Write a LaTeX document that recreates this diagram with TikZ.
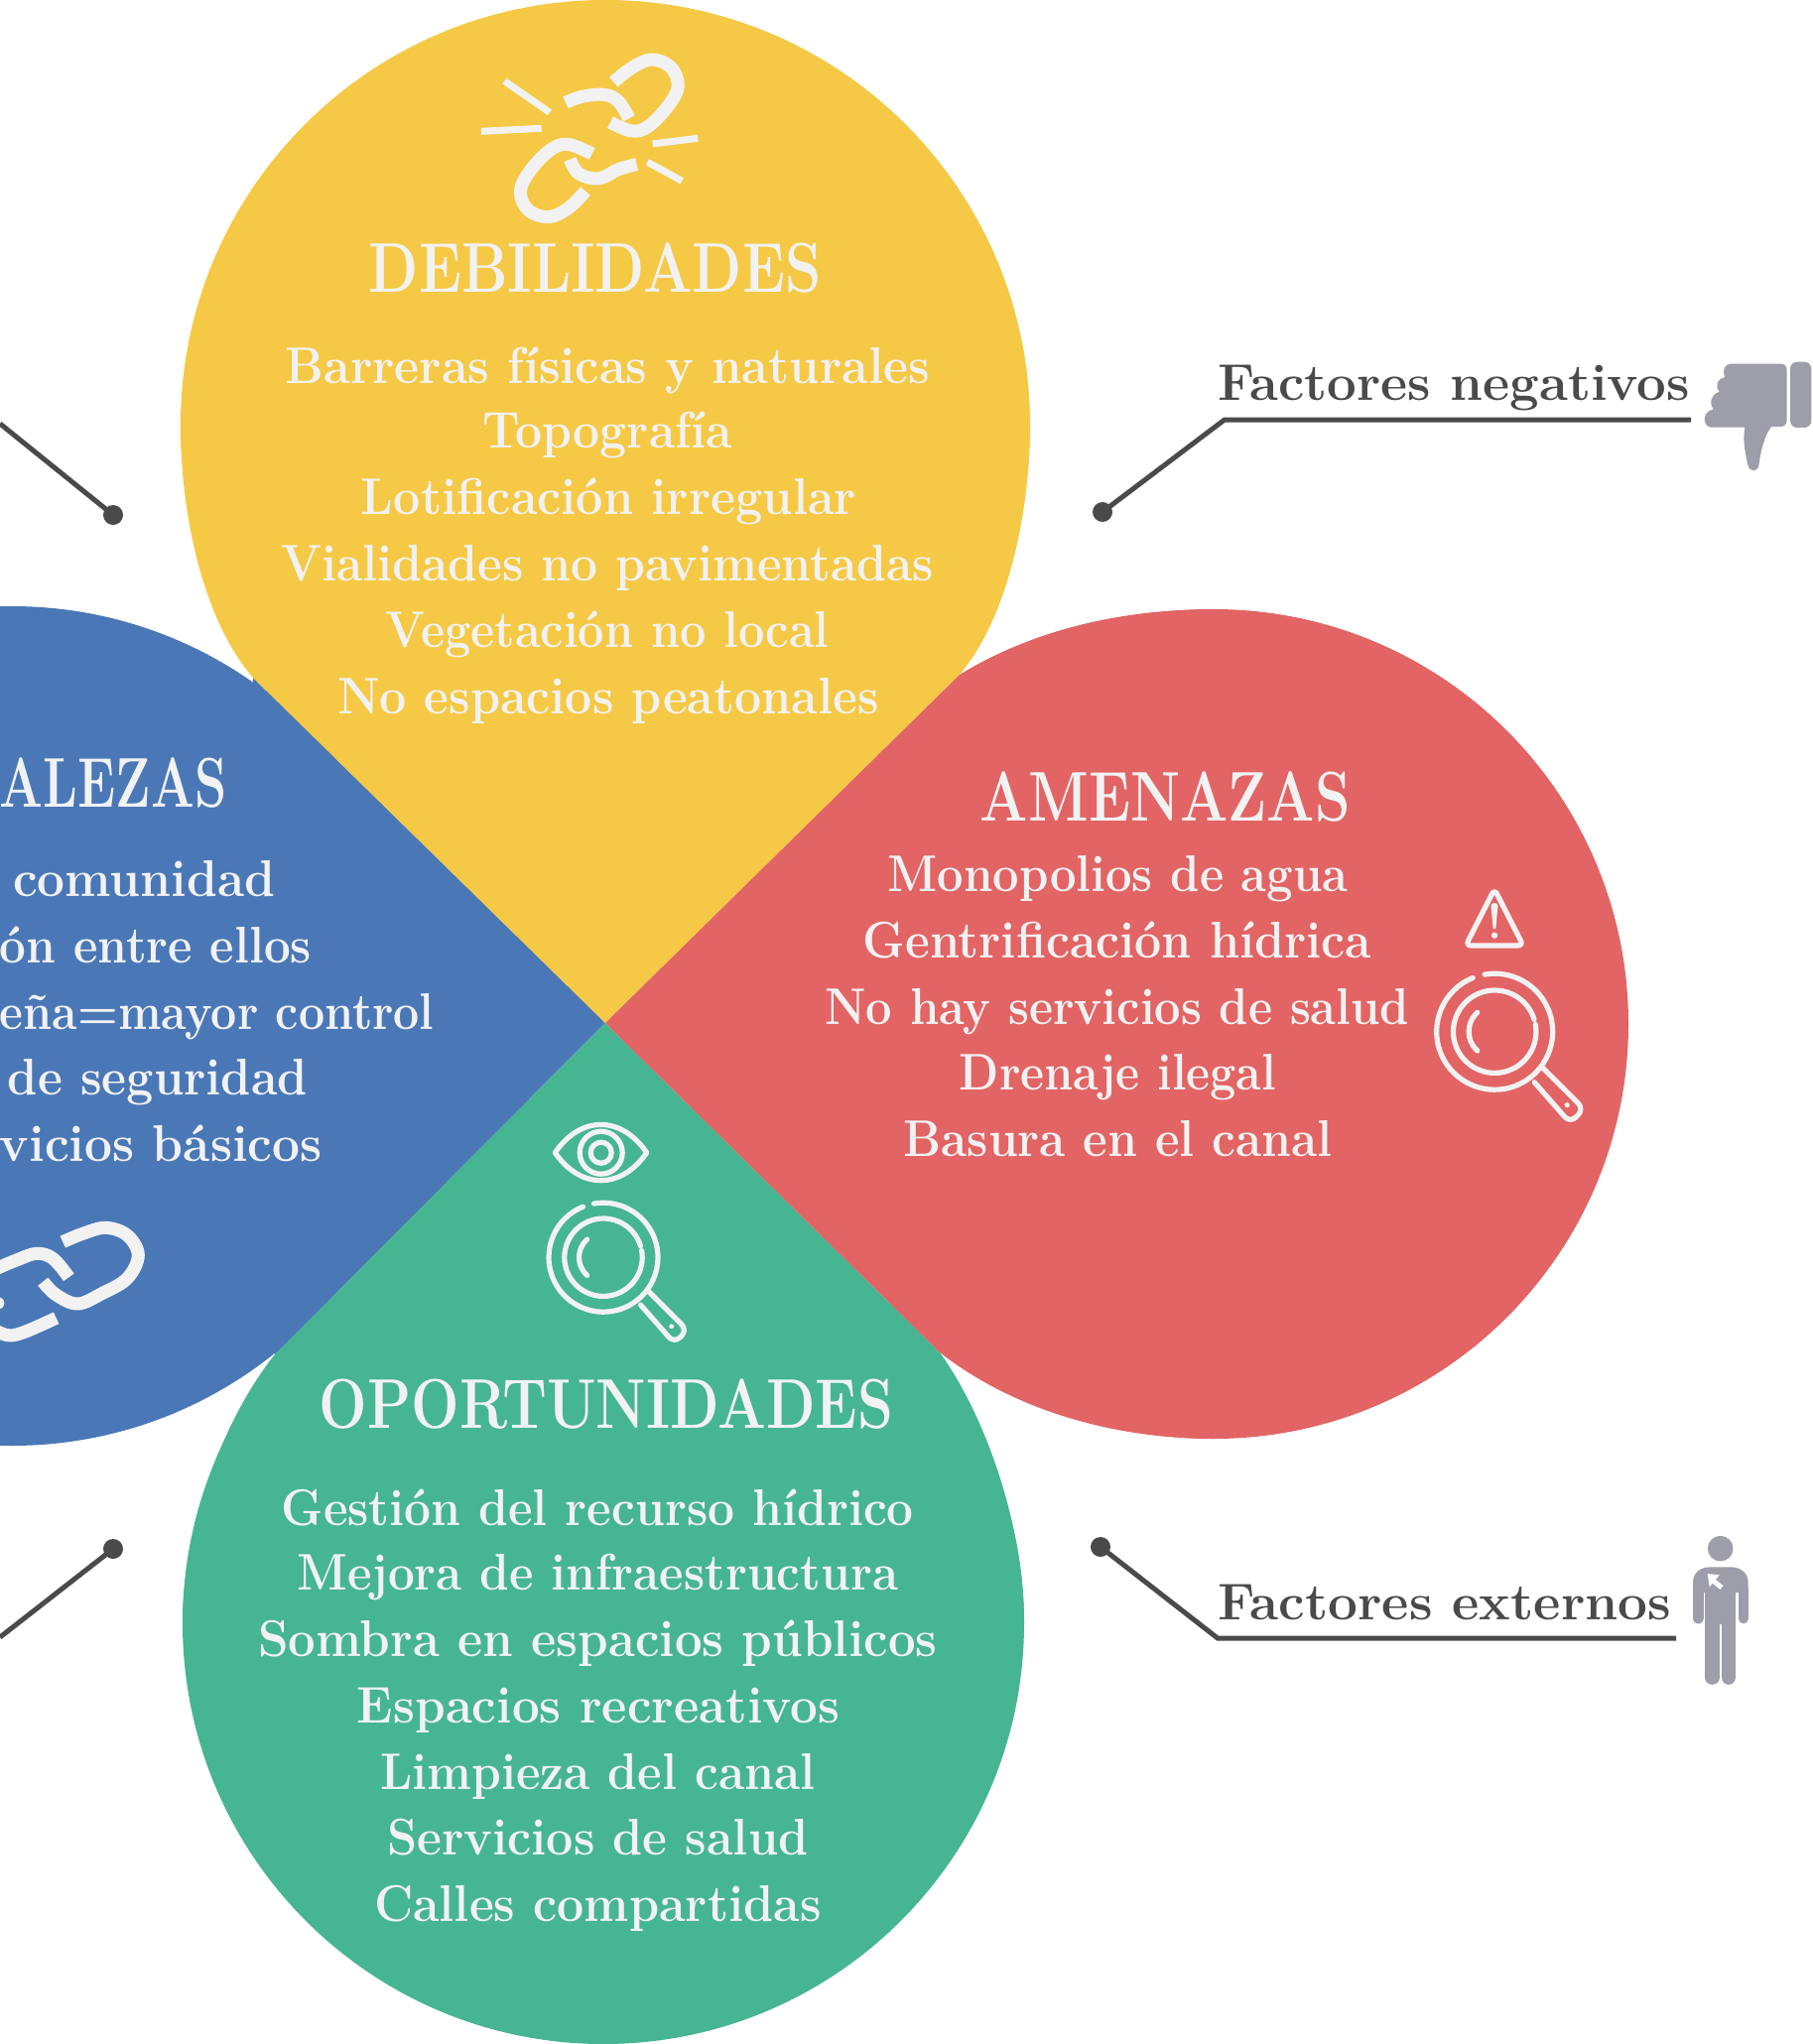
\documentclass[tikz,border=0pt]{standalone}
\usepackage{fontspec}
\usepackage{graphicx}
\definecolor{cyel}{HTML}{F5C945}
\definecolor{cblu}{HTML}{4A78B7}
\definecolor{cred}{HTML}{E26464}
\definecolor{cgrn}{HTML}{46B592}
\definecolor{ctxt}{HTML}{F2F2F3}
\definecolor{cdrk}{HTML}{4A4A4C}
\definecolor{cgry}{HTML}{9D9EAA}
% name, x1, x2, baseline (coordinates of the 1390-wide view), text
\newcommand\bodyline[5]{\node[bodytext] (#1) at ({#2*1.3137},{#4*1.3137}) {\resizebox{\dimexpr1.3137\dimexpr#3pt-#2pt\relax\relax}{\height}{\fontsize{52}{60}\selectfont\bfseries #5}};}
\newcommand\headline[5]{\node[bodytext] (#1) at ({#2*1.3137},{#4*1.3137}) {\resizebox{\dimexpr1.3137\dimexpr#3pt-#2pt\relax\relax}{\height}{\fontsize{71}{80}\selectfont\bfseries #5}};}
\newcommand\sideline[5]{\node[sidetext] (#1) at ({#2*1.3137},{#4*1.3137}) {\resizebox{\dimexpr1.3137\dimexpr#3pt-#2pt\relax\relax}{\height}{\fontsize{52}{60}\selectfont\bfseries #5}};}
\newcommand\lens[3]{%
 \begin{scope}[shift={(#1,#2)},scale=#3,iconline]
  \draw (112:58.5pt) arc[start angle=112,end angle=460,radius=58.5pt];
  \draw (17:41.7pt) arc[start angle=17,end angle=370,radius=41.7pt];
  \draw (132:26pt) arc[start angle=132,end angle=228,radius=26pt];
  \draw[rounded corners=8pt] (49pt,-37pt) -- (90pt,-78pt) -- (76pt,-92pt) -- (40pt,-51pt);
  \fill[ctxt] (73pt,-74pt) circle[radius=2.6pt];
 \end{scope}}
\tikzset{
 bodytext/.style={anchor=base west,inner sep=0pt,outer sep=0pt,text=ctxt},
 sidetext/.style={anchor=base west,inner sep=0pt,outer sep=0pt,text=cdrk},
 iconline/.style={draw=ctxt,line width=5.2pt,line cap=round,line join=round},
 chain/.style={draw=ctxt,line width=13pt,line cap=butt,line join=round},
 ray/.style={draw=ctxt,line width=7pt},
 leader/.style={draw=cdrk,line width=5pt,line join=miter},
 dotend/.style={circle,fill=cdrk,inner sep=0pt,minimum size=20pt}
}
\begin{document}
\begin{tikzpicture}[x=1pt,y=-1pt]
\useasboundingbox (0,0) rectangle (1826,2060);
\clip (0,0) rectangle (1826,2060);
\fill[white] (0,0) rectangle (1826,2060);
% petals
\coordinate (tip) at (610,1031);
\fill[cblu] (12,1034) circle[radius=423pt];
\fill[cblu] (tip) -- (255,683) -- (277,1365) -- cycle;
\fill[cgrn] (608,1636) circle[radius=424pt];
\fill[cgrn] (tip) -- (277,1365) .. controls (225,1430) and (184,1540) .. (184,1636) -- (1032,1636) .. controls (1032,1540) and (995,1430) .. (947,1363) -- cycle;
\fill[cyel] (610,428) circle[radius=428pt];
\fill[cyel] (tip) -- (255,683) .. controls (205,625) and (182,520) .. (182,428) -- (1038,428) .. controls (1038,520) and (1014,625) .. (967,680) -- cycle;
\fill[cred] (1223,1032) circle[radius=418pt];
\fill[cred] (tip) -- (967,680) .. controls (1040,635) and (1130,614) .. (1223,614) -- (1223,1450) .. controls (1120,1450) and (1020,1420) .. (947,1363) -- cycle;
% leaders
\node[dotend] (dA) at (114,519) {};
\coordinate (eA) at (0,427);
\draw[leader] (eA) -- (dA.center);
\node[dotend] (dB) at (1111,516) {};
\coordinate (kB) at (1234,423);
\coordinate (eB) at (1704,423);
\draw[leader] (dB.center) -- (kB) -- (eB);
\node[dotend] (dC) at (1109,1559) {};
\coordinate (kC) at (1227,1651);
\coordinate (eC) at (1689,1651);
\draw[leader] (dC.center) -- (kC) -- (eC);
\node[dotend] (dD) at (114,1561) {};
\coordinate (eD) at (0,1650);
\draw[leader] (eD) -- (dD.center);
% yellow text
\headline{h1}{283}{630}{224}{DEBILIDADES}
\bodyline{y1}{219}{713}{294}{Barreras físicas y naturales}
\bodyline{y2}{370}{562}{344}{Topografía}
\bodyline{y3}{277}{657}{395}{Lotificación irregular}
\bodyline{y4}{216}{716}{446}{Vialidades no pavimentadas}
\bodyline{y5}{296}{636}{497}{Vegetación no local}
\bodyline{y6}{259}{674}{548}{No espacios peatonales}
% blue text
\headline{h2}{0}{174}{619}{ALEZAS}
\bodyline{b1}{10}{211}{688}{comunidad}
\bodyline{b2}{0}{239}{739}{ón entre ellos}
\bodyline{b3}{0}{333}{790}{eña=mayor control}
\bodyline{b4}{6}{236}{840}{de seguridad}
\bodyline{b5}{0}{247}{891}{vicios básicos}
% red text
\headline{h3}{752}{1036}{630}{AMENAZAS}
\bodyline{r1}{681}{1034}{684}{Monopolios de agua}
\bodyline{r2}{662}{1052}{735}{Gentrificación hídrica}
\bodyline{r3}{633}{1081}{786}{No hay servicios de salud}
\bodyline{r4}{736}{979}{836}{Drenaje ilegal}
\bodyline{r5}{693}{1022}{887}{Basura en el canal}
% green text
\headline{h4}{245}{685}{1096}{OPORTUNIDADES}
\bodyline{g1}{216}{701}{1170}{Gestión del recurso hídrico}
\bodyline{g2}{228}{689}{1220}{Mejora de infraestructura}
\bodyline{g3}{198}{719}{1271}{Sombra en espacios públicos}
\bodyline{g4}{274}{644}{1322}{Espacios recreativos}
\bodyline{g5}{292}{625}{1373}{Limpieza del canal}
\bodyline{g6}{297}{620}{1423}{Servicios de salud}
\bodyline{g7}{287}{630}{1474}{Calles compartidas}
% side labels
\sideline{s1}{934}{1296}{307}{Factores negativos}
\sideline{s2}{934}{1282}{1243}{Factores externos}
% broken chain
\begin{scope}[shift={(440,20)},x=0.3333pt,y=-0.3333pt]
 \draw[chain] plot[smooth,tension=.6] coordinates {(535,188) (590,145) (650,120) (708,143) (730,200) (700,260) (640,322) (590,336) (525,310)};
 \draw[chain] plot[smooth,tension=.6] coordinates {(390,250) (440,232) (505,226) (548,245) (582,298)};
 \draw[chain] plot[smooth,tension=.6] coordinates {(450,518) (400,568) (340,596) (278,576) (253,520) (280,460) (340,396) (395,376) (470,405)};
 \draw[chain] plot[smooth,tension=.6] coordinates {(403,422) (430,465) (490,480) (550,452) (605,437)};
 \draw[ray] (205,185) -- (342,280);
 \draw[ray] (135,337) -- (317,328);
 \draw[ray] (653,375) -- (790,358);
 \draw[ray] (637,430) -- (742,487);
\end{scope}
% blue chain
\begin{scope}[shift={(0,1200)},x=0.3333pt,y=-0.3333pt]
 \draw[chain] plot[smooth,tension=.6] coordinates {(190,155) (250,130) (320,112) (385,135) (418,195) (385,265) (310,310) (235,342) (170,315) (130,275)};
 \draw[chain] plot[smooth,tension=.6] coordinates {(-10,235) (50,210) (110,190) (160,205) (208,262)};
 \draw[chain] plot[smooth,tension=.6] coordinates {(-10,425) (30,438) (80,425) (170,385)};
 \fill[ctxt] (-5,340) circle[radius=6pt];
\end{scope}
% magnifiers and small icons
\lens{1506.2}{1039.7}{1}
\lens{608}{1267.2}{0.94}
\begin{scope}[iconline]
 \draw[rounded corners=5.5pt] (1506,896) -- (1535,953) -- (1477,953) -- cycle;
 \fill[ctxt,draw=none] (1502.5,913) .. controls (1502.5,909) and (1509.5,909) .. (1509.5,913) -- (1507.3,936) -- (1504.7,936) -- cycle;
 \fill[ctxt,draw=none] (1506,942.7) circle[radius=3.2pt];
 \draw (559.3,1161.7) .. controls (585,1124) and (626,1124) .. (651.7,1161.7) .. controls (626,1199) and (585,1199) .. (559.3,1161.7) -- cycle;
 \draw (605.7,1161.7) circle[radius=21.5pt];
 \draw (605.7,1161.7) circle[radius=10.5pt];
\end{scope}
% thumb
\begin{scope}[shift={(1690,340)},x=0.3333pt,y=-0.3333pt]
 \fill[cgry] (162,80) -- (315,80) .. controls (326,80) and (332,88) .. (332,100) -- (332,250) .. controls (332,262) and (325,270) .. (312,270) -- (285,270) .. controls (262,300) and (252,350) .. (247,388) .. controls (243,408) and (218,408) .. (214,385) .. controls (205,345) and (198,310) .. (205,272) -- (105,272) .. controls (75,272) and (75,222) .. (110,218) .. controls (95,195) and (105,170) .. (128,165) .. controls (112,145) and (125,122) .. (145,120) .. controls (135,100) and (145,80) .. (162,80) -- cycle;
 \fill[cgry,rounded corners=7pt] (342,74) rectangle (406,273);
\end{scope}
% person
\begin{scope}[shift={(1680,1530)},x=0.3333pt,y=-0.3333pt]
 \fill[cgry] (161,92) circle[radius=12.8pt];
 \fill[cgry] (78,225) -- (78,195) .. controls (78,165) and (100,148) .. (130,148) -- (192,148) .. controls (222,148) and (245,165) .. (245,195) -- (245,225) -- cycle;
 \fill[cgry] (115,200) rectangle (207,320);
 \draw[cgry,line width=10.7pt,line cap=round] (94,215) -- (94,304);
 \draw[cgry,line width=10pt,line cap=round] (230,215) -- (230,304);
 \draw[cgry,line width=14.3pt,line cap=round] (136,300) -- (136,482);
 \draw[cgry,line width=14.3pt,line cap=round] (186,300) -- (186,482);
 \fill[white] (122,168) -- (158,172) -- (128,208) -- cycle;
 \draw[white,line width=5pt] (140,190) -- (165,210);
\end{scope}
\end{tikzpicture}
\end{document}
